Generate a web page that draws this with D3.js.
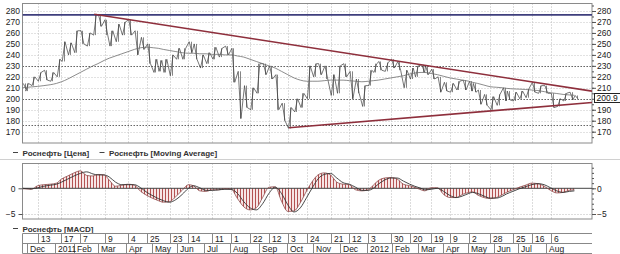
<!DOCTYPE html>
<html>
<head>
<meta charset="utf-8">
<script src="https://cdnjs.cloudflare.com/ajax/libs/d3/7.8.5/d3.min.js"></script>
<style>
body { margin: 0; background: #fff; }
svg { display: block; font-family: "Liberation Sans", Arial, sans-serif; }
</style>
</head>
<body>
<div id="chart"></div>
<script>
// weekly data, each entry = first trading day of the week
var weekDates = ["2010-11-25","2010-11-29","2010-12-06","2010-12-13","2010-12-20","2010-12-27",
	"2011-01-11","2011-01-17","2011-01-24","2011-01-31","2011-02-07","2011-02-14","2011-02-21","2011-02-28",
	"2011-03-07","2011-03-14","2011-03-21","2011-03-28","2011-04-04","2011-04-11","2011-04-18","2011-04-25",
	"2011-05-03","2011-05-10","2011-05-16","2011-05-23","2011-05-30","2011-06-06","2011-06-14","2011-06-20",
	"2011-06-27","2011-07-04","2011-07-11","2011-07-18","2011-07-25","2011-08-01","2011-08-08","2011-08-15",
	"2011-08-22","2011-08-29","2011-09-05","2011-09-12","2011-09-19","2011-09-26","2011-10-03","2011-10-10",
	"2011-10-17","2011-10-24","2011-10-31","2011-11-07","2011-11-14","2011-11-21","2011-11-28","2011-12-05",
	"2011-12-12","2011-12-19","2011-12-26","2012-01-03","2012-01-10","2012-01-16","2012-01-23","2012-01-30",
	"2012-02-06","2012-02-13","2012-02-20","2012-02-27","2012-03-05","2012-03-12","2012-03-19","2012-03-26",
	"2012-04-02","2012-04-09","2012-04-16","2012-04-23","2012-05-02","2012-05-07","2012-05-14","2012-05-21",
	"2012-05-28","2012-06-04","2012-06-13","2012-06-18","2012-06-25","2012-07-02","2012-07-09","2012-07-16",
	"2012-07-23","2012-07-30","2012-08-06","2012-08-13","2012-08-20","2012-08-27","2012-08-31"];

var priceLow = [209,207,212,216,217,216, 220,234,240,242,250,248,258,266, 258,248,252,258,258,240,245,232,
	224,225,224,221,236,236,242,236, 228,232,236,238,240,215,182,192, 190,205,222,218,190,180,173,188,
	192,200,220,222,218,203,205,220, 200,205,193,212,224,226,225,228, 226,210,218,220,224,222,218,206,
	207,206,208,208,207,206,195,194, 190,194,198,199,198,200,201,206, 205,205,192,193,198,199,200];
var priceHigh = [214,214,220,224,226,224, 236,252,251,262,262,260,277,276, 272,262,268,270,272,262,256,250,
	236,235,236,240,246,246,252,250, 240,242,247,246,248,246,225,212, 210,232,232,230,222,196,192,200,
	205,230,232,232,230,222,230,232, 225,218,212,226,232,234,233,236, 234,226,228,230,231,230,227,220,
	215,214,216,217,216,214,208,204, 202,204,210,207,206,207,209,215, 212,212,205,200,205,206,203];
var movingAvg = [210,210.3,210.8,211.3,212,212.8, 214,215.5,218,221,224,227,230,232, 235,237,239,241,243,245,246.5,247,
	246.5,246,245,244,243,242,241.5,241.5, 241,241,240.5,240.5,240,240,239,238, 236,234,232,230,228,225,222,219,
	217,216,216,216,216.5,217,217,217, 216.5,216,215.5,216,216.5,217,218,219, 220,221,222.5,223.5,224,224,223,222,
	220.5,219,218,217,216,215,214,212.5, 211,210.5,210,209.5,209,208.8,208.5,208, 207.5,206.5,205.5,204.8,204,203.5,203.2];
var macdValues = [-0.1,-0.1,-0.2,0.5,0.7,0.8, 1.0,1.8,2.4,3.0,3.4,2.5,2.4,2.7, 2.6,1.6,0.4,0.6,0.8,0.6,-0.6,-1.4,
	-2.0,-2.4,-2.7,-2.6,-1.6,-0.4,0.7,0.5, -0.5,-0.6,-0.3,-0.3,-0.1,-0.2,-2.0,-3.6, -4.2,-3.8,-1.8,0.2,0.3,-2.5,-4.5,-4.4,
	-2.8,-0.5,1.5,2.6,3.0,2.6,1.2,0.8, 0.7,-0.3,-0.5,-0.3,0.6,1.5,2.0,2.1, 1.8,0.8,0.5,0.2,-0.3,-0.5,0.1,0.1,
	-1.2,-1.8,-1.8,-1.2,-0.8,-0.7,-1.3,-1.8, -2.0,-1.8,-1.2,-0.8,-0.3,0.2,0.6,1.0, 0.9,0.4,-0.4,-0.9,-0.8,-0.4,-0.3];
var signalValues = [0,-0.05,-0.1,0.1,0.4,0.6, 0.8,1.2,1.8,2.4,2.9,3.2,2.8,2.6, 2.6,2.2,1.2,0.7,0.7,0.7,0.1,-0.8,
	-1.5,-2.0,-2.4,-2.7,-2.2,-1.2,0.0,0.5, 0.1,-0.4,-0.4,-0.3,-0.2,-0.2,-1.0,-2.6, -3.8,-4.2,-3.0,-1.0,0.2,-1.0,-3.2,-4.6,
	-3.8,-1.8,0.3,1.8,2.7,2.9,2.0,1.1, 0.8,0.2,-0.4,-0.4,0.0,0.8,1.6,2.0, 2.0,1.4,0.8,0.4,0.0,-0.3,-0.2,0.0,
	-0.6,-1.4,-1.8,-1.5,-1.0,-0.8,-1.0,-1.5, -1.9,-1.9,-1.5,-1.1,-0.6,-0.1,0.3,0.7, 0.9,0.7,0.1,-0.5,-0.8,-0.6,-0.5];

var priceTicks = [170,180,190,200,210,220,230,240,250,260,270,280];
var macdTicks = [0,-5];
var dayTicks = ["2010-12-13","2011-01-17","2011-02-07","2011-03-09","2011-04-04","2011-04-25","2011-05-23",
	"2011-06-14","2011-07-11","2011-08-01","2011-08-22","2011-09-12","2011-10-03","2011-10-24","2011-11-21",
	"2011-12-12","2012-01-03","2012-01-30","2012-02-20","2012-03-19","2012-04-09","2012-05-02","2012-05-28",
	"2012-06-25","2012-07-16","2012-08-06"];
var monthStarts = ["2010-12-01","2011-01-01","2011-02-01","2011-03-01","2011-04-01","2011-05-01","2011-06-01",
	"2011-07-01","2011-08-01","2011-09-01","2011-10-01","2011-11-01","2011-12-01","2012-01-01","2012-02-01",
	"2012-03-01","2012-04-01","2012-05-01","2012-06-01","2012-07-01","2012-08-01"];
var monthLabels = ["Dec","2011","Feb","Mar","Apr","May","Jun","Jul","Aug","Sep","Oct","Nov","Dec",
	"2012","Feb","Mar","Apr","May","Jun","Jul","Aug"];
// exchange holidays (weekdays without trading)
var holidays = ["2011-01-03","2011-01-04","2011-01-05","2011-01-06","2011-01-07","2011-01-10","2011-02-23",
	"2011-03-08","2011-05-02","2011-05-09","2011-06-13","2011-11-04","2012-01-02","2012-01-09","2012-02-23",
	"2012-03-08","2012-03-09","2012-04-30","2012-05-01","2012-05-09","2012-06-11","2012-06-12"];

var resistance = [["2011-02-22",277],["2012-09-20",207]];
var support = [["2011-10-04",173.6],["2012-09-20",196.6]];
var topLevel = 276.4;
var levels = [229.5,200,176.5];
var lastPrice = 200.9;
var firstDay = "2010-11-25", lastDay = "2012-09-20";

var width = 620, height = 254;
var L = 22.5, R = 592;
var main = {top: 3.5, bottom: 143};
var macdBox = {top: 163.5, bottom: 219};

var parse = d3.timeParse("%Y-%m-%d");
var start = parse(firstDay);
var holidaySet = {};
holidays.forEach(function(h){ holidaySet[h] = true; });
var fmtKey = d3.timeFormat("%Y-%m-%d");

//trading day number counted from the first day of the chart
var idxCache = {};
function tradeIdx(d) {
	var key = fmtKey(d);
	if (idxCache[key] !== undefined) return idxCache[key];
	var n = d3.timeDay.range(d3.timeDay.offset(start, 1), d3.timeDay.offset(d, 1))
		.filter(function(t){ var w = t.getDay(); return w !== 0 && w !== 6 && !holidaySet[fmtKey(t)]; })
		.length;
	idxCache[key] = n;
	return n;
}
function firstTradeIdx(d) {
	return tradeIdx(d3.timeDay.offset(d, -1)) + 1;
}

var x = d3.scaleLinear().domain([0, tradeIdx(parse(lastDay))]).range([L, R]);
var y = d3.scaleLinear().domain([170, 280]).range([131.7, 11]);
var yM = d3.scaleLinear().domain([-5, 0]).range([214, 188.3]);

var weekIdx = weekDates.map(function(s){ return tradeIdx(parse(s)); });

var svg = d3.select("#chart").append("svg")
	.attr("width", width)
	.attr("height", height);

var defs = svg.append("defs");
defs.append("clipPath").attr("id", "clipMain").append("rect")
	.attr("x", L).attr("y", main.top).attr("width", R - L).attr("height", main.bottom - main.top);
defs.append("clipPath").attr("id", "clipMacd").append("rect")
	.attr("x", L).attr("y", macdBox.top).attr("width", R - L).attr("height", macdBox.bottom - macdBox.top);
var pat = defs.append("pattern").attr("id", "stripes")
	.attr("patternUnits", "userSpaceOnUse").attr("width", 3).attr("height", 10);
pat.append("rect").attr("width", 3).attr("height", 10).attr("fill", "#f7e6e6");
pat.append("rect").attr("width", 1).attr("height", 10).attr("fill", "#b45252");

///////////////////////// grid /////////////////////////
function vGrid(g, y0, y1) {
	g.selectAll(".vg").data(dayTicks).enter().append("line")
		.attr("x1", function(d){ return Math.round(x(tradeIdx(parse(d)))) + 0.5; })
		.attr("x2", function(d){ return Math.round(x(tradeIdx(parse(d)))) + 0.5; })
		.attr("y1", y0).attr("y2", y1)
		.attr("stroke", "#b8b8b8").attr("stroke-dasharray", "1,2");
}

var gMain = svg.append("g");
vGrid(gMain, main.top, main.bottom);
gMain.selectAll(".hg").data(priceTicks).enter().append("line")
	.attr("x1", L).attr("x2", R)
	.attr("y1", function(d){ return Math.round(y(d)) + 0.5; })
	.attr("y2", function(d){ return Math.round(y(d)) + 0.5; })
	.attr("stroke", "#c4c4c4").attr("stroke-dasharray", "1,2");
gMain.selectAll(".lv").data(levels).enter().append("line")
	.attr("x1", L).attr("x2", R)
	.attr("y1", function(d){ return Math.round(y(d)) + 0.5; })
	.attr("y2", function(d){ return Math.round(y(d)) + 0.5; })
	.attr("stroke", "#666").attr("stroke-dasharray", "1.5,1.5");

///////////////////////// price /////////////////////////
var plot = svg.append("g").attr("clip-path", "url(#clipMain)");

var pts = [];
weekDates.forEach(function(d, i){
	var nextMid = i < weekDates.length - 1 ? (priceLow[i+1] + priceHigh[i+1]) / 2 : priceLow[i];
	var mid = (priceLow[i] + priceHigh[i]) / 2;
	if (nextMid >= mid) {
		pts.push([weekIdx[i] + 0.6, priceLow[i]]);
		pts.push([weekIdx[i] + 2.8, priceHigh[i]]);
	} else {
		pts.push([weekIdx[i] + 0.6, priceHigh[i]]);
		pts.push([weekIdx[i] + 2.8, priceLow[i]]);
	}
});

plot.selectAll(".bar").data(weekDates).enter().append("line")
	.attr("x1", function(d,i){ return Math.round(x(weekIdx[i] + 1.7)) + 0.5; })
	.attr("x2", function(d,i){ return Math.round(x(weekIdx[i] + 1.7)) + 0.5; })
	.attr("y1", function(d,i){ return y(priceLow[i]); })
	.attr("y2", function(d,i){ return y(priceHigh[i]); })
	.attr("stroke", "#666").attr("stroke-width", 0.8);

plot.append("path")
	.attr("d", d3.line().x(function(p){ return x(p[0]); }).y(function(p){ return y(p[1]); })(pts))
	.attr("fill", "none").attr("stroke", "#3c3c3c").attr("stroke-width", 0.7);

plot.append("path")
	.attr("d", d3.line()
		.x(function(d,i){ return x(weekIdx[i]); })
		.y(function(d){ return y(d); })
		.curve(d3.curveMonotoneX)(movingAvg))
	.attr("fill", "none").attr("stroke", "#6e6e6e").attr("stroke-width", 0.8);

// horizontal level and trend lines
plot.append("line")
	.attr("x1", L).attr("x2", R)
	.attr("y1", y(topLevel)).attr("y2", y(topLevel))
	.attr("stroke", "#3e3e7c").attr("stroke-width", 1.8);

[resistance, support].forEach(function(t){
	plot.append("line")
		.attr("x1", x(tradeIdx(parse(t[0][0])))).attr("y1", y(t[0][1]))
		.attr("x2", x(tradeIdx(parse(t[1][0])))).attr("y2", y(t[1][1]))
		.attr("stroke", "#8e2f3c").attr("stroke-width", 1.6);
});

gMain.append("rect")
	.attr("x", L).attr("y", main.top).attr("width", R - L).attr("height", main.bottom - main.top)
	.attr("fill", "none").attr("stroke", "#8a8a8a");

// axes
var fs = "8.5px";
gMain.selectAll(".ll").data(priceTicks).enter().append("text")
	.attr("x", 20).attr("y", function(d){ return y(d) + 3; })
	.attr("text-anchor", "end").attr("font-size", fs).attr("fill", "#222")
	.text(function(d){ return d; });

var minor = d3.range(165, 286, 5);
svg.append("g").attr("transform", "translate(" + R + ",0)")
	.call(d3.axisRight(y).tickValues(minor).tickSize(2).tickFormat(""))
	.call(function(g){ g.select(".domain").remove(); g.selectAll("line").attr("stroke", "#555"); });
// the last price box covers the 200 label on the right
svg.append("g").attr("transform", "translate(" + R + ",0)")
	.call(d3.axisRight(y).tickValues(priceTicks.filter(function(v){ return Math.abs(v - lastPrice) > 5; }))
		.tickSize(4).tickPadding(1))
	.call(function(g){
		g.select(".domain").remove();
		g.selectAll("line").attr("stroke", "#555");
		g.selectAll("text").attr("font-size", fs).attr("fill", "#222").attr("font-family", "Liberation Sans, Arial, sans-serif");
	});

// last price box
var yl = y(lastPrice);
svg.append("rect").attr("x", 594.5).attr("y", Math.round(yl - 5) + 0.5).attr("width", 30).attr("height", 9)
	.attr("fill", "#fff").attr("stroke", "#222");
svg.append("text").attr("x", 596.5).attr("y", yl + 3).attr("font-size", fs).attr("fill", "#111").text(lastPrice);

///////////////////////// legends /////////////////////////
function legendItem(x0, yy, label) {
	svg.append("line").attr("x1", x0).attr("x2", x0 + 5).attr("y1", yy).attr("y2", yy)
		.attr("stroke", "#444").attr("stroke-width", 1);
	svg.append("text").attr("x", x0 + 9.5).attr("y", yy + 3)
		.attr("font-size", "8px").attr("font-weight", "bold").attr("fill", "#333").text(label);
}
legendItem(13, 152.5, "Роснефть [Цена]");
legendItem(99.5, 152.5, "Роснефть [Moving Average]");
svg.append("line").attr("x1", 0).attr("x2", width).attr("y1", 159.5).attr("y2", 159.5).attr("stroke", "#d0d0d0");
legendItem(13, 228.5, "Роснефть [MACD]");

///////////////////////// MACD /////////////////////////
var gM = svg.append("g");
vGrid(gM, macdBox.top, macdBox.bottom);
gM.append("line").attr("x1", L).attr("x2", R).attr("y1", Math.round(yM(-5)) + 0.5).attr("y2", Math.round(yM(-5)) + 0.5)
	.attr("stroke", "#bbb").attr("stroke-dasharray", "1,2");

var mplot = svg.append("g").attr("clip-path", "url(#clipMacd)");
mplot.append("path")
	.attr("d", d3.area()
		.x(function(d,i){ return x(weekIdx[i]); })
		.y0(yM(0))
		.y1(function(d){ return yM(d); })
		.curve(d3.curveMonotoneX)(macdValues))
	.attr("fill", "url(#stripes)");
mplot.append("line").attr("x1", L).attr("x2", R).attr("y1", yM(0)).attr("y2", yM(0))
	.attr("stroke", "#444").attr("stroke-width", 1);
mplot.append("path")
	.attr("d", d3.line()
		.x(function(d,i){ return x(weekIdx[i]); })
		.y(function(d){ return yM(d); })
		.curve(d3.curveMonotoneX)(macdValues))
	.attr("fill", "none").attr("stroke", "#8a4a4a").attr("stroke-width", 0.8);
mplot.append("path")
	.attr("d", d3.line()
		.x(function(d,i){ return x(weekIdx[i]); })
		.y(function(d){ return yM(d); })
		.curve(d3.curveMonotoneX)(signalValues))
	.attr("fill", "none").attr("stroke", "#333").attr("stroke-width", 0.9);

gM.append("rect")
	.attr("x", L).attr("y", macdBox.top).attr("width", R - L).attr("height", macdBox.bottom - macdBox.top)
	.attr("fill", "none").attr("stroke", "#8a8a8a");

svg.append("g").attr("transform", "translate(" + R + ",0)")
	.call(d3.axisRight(yM).tickValues(d3.range(-5, 5, 1)).tickSize(2).tickFormat(""))
	.call(function(g){ g.select(".domain").remove(); g.selectAll("line").attr("stroke", "#555"); });
svg.append("g").attr("transform", "translate(" + R + ",0)")
	.call(d3.axisRight(yM).tickValues(macdTicks).tickSize(4).tickPadding(1).tickFormat(d3.format("d")))
	.call(function(g){
		g.select(".domain").remove();
		g.selectAll("line").attr("stroke", "#555");
		g.selectAll("text").attr("font-size", fs).attr("fill", "#222").attr("font-family", "Liberation Sans, Arial, sans-serif");
	});
svg.append("g").attr("transform", "translate(" + L + ",0)")
	.call(d3.axisLeft(yM).tickValues(macdTicks).tickSize(4).tickPadding(3).tickFormat(d3.format("d")))
	.call(function(g){
		g.select(".domain").remove();
		g.selectAll("line").attr("stroke", "#555");
		g.selectAll("text").attr("font-size", fs).attr("fill", "#222").attr("font-family", "Liberation Sans, Arial, sans-serif");
	});

///////////////////////// date axis /////////////////////////
var r0 = 233.5, r1 = 243.5, r2 = 253.5;
var ax = svg.append("g");
[r0, r1, r2].forEach(function(yy){
	ax.append("line").attr("x1", L).attr("x2", R).attr("y1", yy).attr("y2", yy).attr("stroke", "#888");
});
ax.append("line").attr("x1", L).attr("x2", L).attr("y1", r0).attr("y2", r2).attr("stroke", "#888");

var dayX = dayTicks.map(function(s){ return Math.round(x(tradeIdx(parse(s)))) + 0.5; });
ax.selectAll(".dsep").data(dayX).enter().append("line")
	.attr("x1", function(d){ return d; }).attr("x2", function(d){ return d; })
	.attr("y1", r0).attr("y2", r1).attr("stroke", "#888");
ax.selectAll(".dlab").data(dayTicks).enter().append("text")
	.attr("x", function(d,i){ return dayX[i] + 2.5; }).attr("y", r1 - 2)
	.attr("font-size", fs).attr("fill", "#222")
	.text(function(d){ return d3.timeFormat("%-d")(parse(d)); });

var monX = monthStarts.map(function(s){ return Math.round(x(firstTradeIdx(parse(s)))) - 0.5; });
ax.selectAll(".msep").data(monX).enter().append("line")
	.attr("x1", function(d){ return d; }).attr("x2", function(d){ return d; })
	.attr("y1", r1).attr("y2", r2).attr("stroke", "#888");
ax.selectAll(".mlab").data(monthLabels).enter().append("text")
	.attr("x", function(d,i){ return monX[i] + 2.5; }).attr("y", r2 - 2)
	.attr("font-size", fs).attr("fill", "#222")
	.text(function(d){ return d; });
</script>
</body>
</html>
